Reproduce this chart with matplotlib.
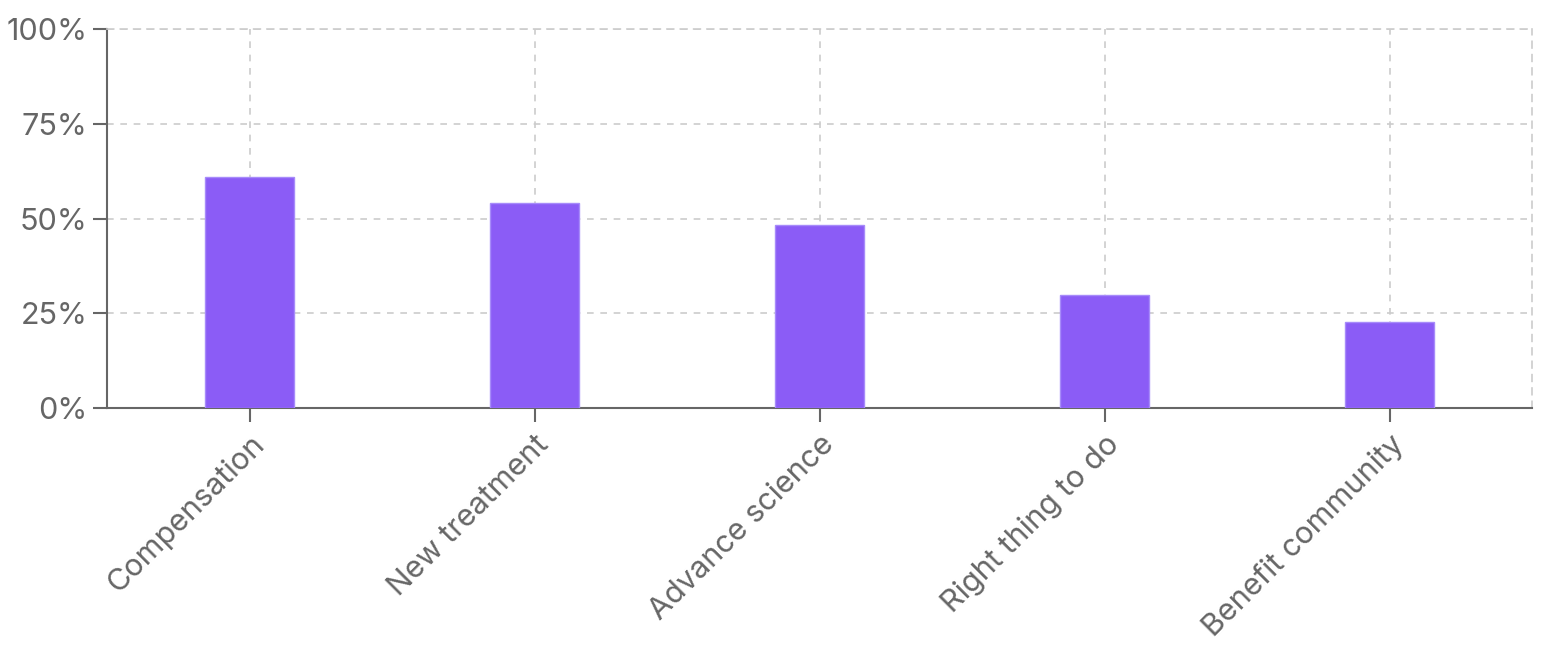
import matplotlib
matplotlib.use("Agg")
import matplotlib.pyplot as plt
from matplotlib.ticker import FuncFormatter

categories = ["Compensation", "New treatment", "Advance science", "Right thing to do", "Benefit community"]
values = [60.9, 54.0, 48.3, 29.9, 22.7]
y_ticks = [0, 25, 50, 75, 100]

plt.rcParams["font.family"] = ["Inter", "DejaVu Sans"]

fig = plt.figure(figsize=(15.52, 6.5), dpi=100)
ax = fig.add_axes([107 / 1552, 1 - 408 / 650, 1425 / 1552, 379 / 650])

x = range(len(categories))
ax.bar(x, values, width=0.31, color="#8b5cf6", edgecolor="#a78bfa", linewidth=1, zorder=3)

ax.set_xlim(-0.5, len(categories) - 0.5)
ax.set_ylim(0, 100)
ax.set_yticks(y_ticks)
ax.yaxis.set_major_formatter(FuncFormatter(lambda v, _: f"{v:.0f}%"))
ax.set_xticks(list(x))
ax.set_xticklabels(categories, rotation=45, ha="right", va="top", rotation_mode="anchor")

ax.grid(True, color="#cccccc", linestyle=(0, (4, 4)), linewidth=1.2, zorder=0)
ax.set_axisbelow(True)

for side in ["top", "right"]:
    ax.spines[side].set_color("#cccccc")
    ax.spines[side].set_linestyle((0, (4, 4)))
    ax.spines[side].set_linewidth(1.2)
for side in ["left", "bottom"]:
    ax.spines[side].set_color("#666666")
    ax.spines[side].set_linewidth(1.5)

ax.tick_params(axis="both", colors="#666666", labelcolor="#666666", length=10, width=1.5, labelsize=22)
ax.tick_params(axis="x", pad=6)
ax.tick_params(axis="y", pad=4)

fig.savefig("out.png", dpi=100)
